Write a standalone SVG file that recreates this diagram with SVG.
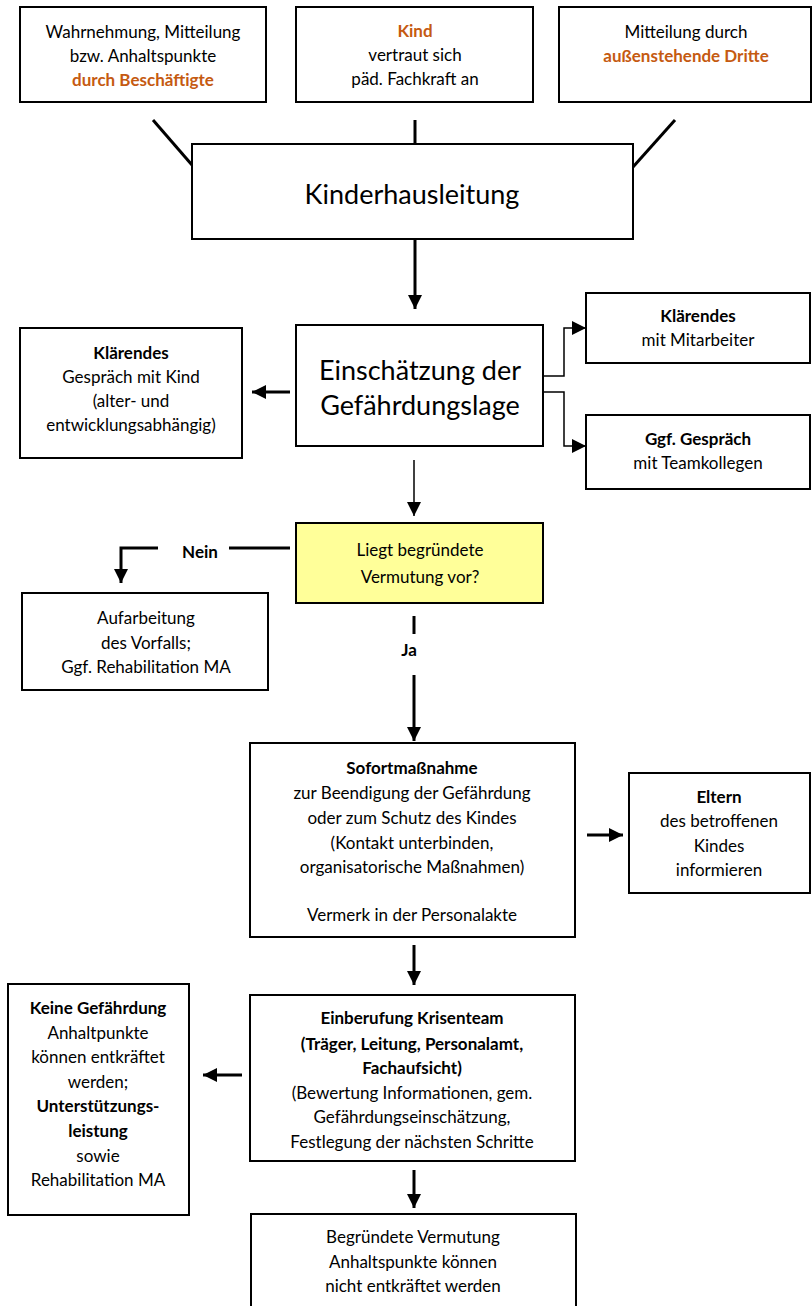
<svg xmlns="http://www.w3.org/2000/svg" width="812" height="1306" viewBox="0 0 812 1306">
<defs>
<marker id="ah" viewBox="0 0 14 14" refX="14" refY="7" markerWidth="14" markerHeight="14" markerUnits="userSpaceOnUse" orient="auto"><path d="M0,0 L14,7 L0,14 z" fill="#000"/></marker>
</defs>
<style>
.box{fill:#fff;stroke:#000;stroke-width:2}
.yel{fill:#FFFF99;stroke:#000;stroke-width:2}
text{font-family:Lato,"Open Sans","Liberation Sans",sans-serif;font-size:17px;fill:#000;text-anchor:middle}
.b{font-weight:bold}
.o{font-weight:bold;fill:#C55A11}
.big{font-size:27px}
.thick{stroke:#000;stroke-width:3;fill:none}
.thin{stroke:#000;stroke-width:1.5;fill:none}
</style>
<rect width="812" height="1306" fill="#fff"/>
<g id="connectors">
<line class="thick" x1="153" y1="120" x2="192" y2="165"/>
<line class="thick" x1="415" y1="120" x2="415" y2="144"/>
<line class="thick" x1="675" y1="120" x2="633" y2="167"/>
<line class="thick" x1="415" y1="239" x2="415" y2="309" marker-end="url(#ah)"/>
<line class="thick" x1="290" y1="392" x2="252" y2="392" marker-end="url(#ah)"/>
<polyline class="thin" points="543,376 564,376 564,328 586,328" marker-end="url(#ah)"/>
<polyline class="thin" points="543,392 564,392 564,446 586,446" marker-end="url(#ah)"/>
<line class="thin" x1="414" y1="460" x2="414" y2="516" marker-end="url(#ah)"/>
<line class="thick" x1="290" y1="548" x2="229" y2="548"/>
<polyline class="thick" points="158,548 121,548 121,583" marker-end="url(#ah)"/>
<line class="thick" x1="414" y1="616" x2="414" y2="634"/>
<line class="thick" x1="414" y1="675" x2="414" y2="741" marker-end="url(#ah)"/>
<line class="thick" x1="587" y1="835" x2="623" y2="835" marker-end="url(#ah)"/>
<line class="thick" x1="414" y1="945" x2="414" y2="985" marker-end="url(#ah)"/>
<line class="thick" x1="242" y1="1075" x2="203" y2="1075" marker-end="url(#ah)"/>
<line class="thick" x1="414" y1="1170" x2="414" y2="1208" marker-end="url(#ah)"/>
<text class="b" x="200" y="558">Nein</text>
<text class="b" x="409" y="656">Ja</text>
</g>
<g id="n1">
<rect class="box" x="20" y="7" width="246" height="95"/>
<text x="143" y="38">Wahrnehmung, Mitteilung</text>
<text x="143" y="62">bzw. Anhaltspunkte</text>
<text class="o" x="143" y="86">durch Beschäftigte</text>
</g>
<g id="n2">
<rect class="box" x="296" y="7" width="237" height="95"/>
<text class="o" x="415" y="37">Kind</text>
<text x="415" y="61">vertraut sich</text>
<text x="415" y="85">päd. Fachkraft an</text>
</g>
<g id="n3">
<rect class="box" x="559" y="7" width="252" height="95"/>
<text x="686" y="38">Mitteilung durch</text>
<text class="o" x="686" y="62">außenstehende Dritte</text>
</g>
<g id="n4">
<rect class="box" x="192" y="144" width="441" height="95"/>
<text class="big" x="412" y="204">Kinderhausleitung</text>
</g>
<g id="n5">
<rect class="box" x="296" y="325" width="247" height="121"/>
<text class="big" x="420" y="380">Einschätzung der</text>
<text class="big" x="420" y="415">Gefährdungslage</text>
</g>
<g id="n6">
<rect class="box" x="20" y="328" width="222" height="130"/>
<text class="b" x="131" y="359">Klärendes</text>
<text x="131" y="383">Gespräch mit Kind</text>
<text x="131" y="407">(alter- und</text>
<text x="131" y="431">entwicklungsabhängig)</text>
</g>
<g id="n7">
<rect class="box" x="586" y="293" width="224" height="70"/>
<text class="b" x="698" y="322">Klärendes</text>
<text x="698" y="346">mit Mitarbeiter</text>
</g>
<g id="n8">
<rect class="box" x="586" y="415" width="224" height="74"/>
<text class="b" x="698" y="445">Ggf. Gespräch</text>
<text x="698" y="469">mit Teamkollegen</text>
</g>
<g id="n9">
<rect class="yel" x="296" y="523" width="247" height="80"/>
<text x="420" y="556">Liegt begründete</text>
<text x="420" y="583">Vermutung vor?</text>
</g>
<g id="n10">
<rect class="box" x="22" y="593" width="246" height="97"/>
<text x="146" y="624">Aufarbeitung</text>
<text x="146" y="649">des Vorfalls;</text>
<text x="146" y="673">Ggf. Rehabilitation MA</text>
</g>
<g id="n11">
<rect class="box" x="250" y="743" width="325" height="194"/>
<text class="b" x="412" y="774">Sofortmaßnahme</text>
<text x="412" y="799">zur Beendigung der Gefährdung</text>
<text x="412" y="824">oder zum Schutz des Kindes</text>
<text x="412" y="849">(Kontakt unterbinden,</text>
<text x="412" y="873">organisatorische Maßnahmen)</text>
<text x="412" y="921">Vermerk in der Personalakte</text>
</g>
<g id="n12">
<rect class="box" x="629" y="773" width="181" height="120"/>
<text class="b" x="719" y="803">Eltern</text>
<text x="719" y="827">des betroffenen</text>
<text x="719" y="852">Kindes</text>
<text x="719" y="876">informieren</text>
</g>
<g id="n13">
<rect class="box" x="250" y="995" width="325" height="166"/>
<text class="b" x="412" y="1024">Einberufung Krisenteam</text>
<text class="b" x="412" y="1050">(Träger, Leitung, Personalamt,</text>
<text class="b" x="412" y="1074">Fachaufsicht)</text>
<text x="412" y="1099">(Bewertung Informationen, gem.</text>
<text x="412" y="1123">Gefährdungseinschätzung,</text>
<text x="412" y="1148">Festlegung der nächsten Schritte</text>
</g>
<g id="n14">
<rect class="box" x="8" y="984" width="181" height="231"/>
<text class="b" x="98" y="1014">Keine Gefährdung</text>
<text x="98" y="1039">Anhaltpunkte</text>
<text x="98" y="1063">können entkräftet</text>
<text x="98" y="1088">werden;</text>
<text class="b" x="98" y="1112">Unterstützungs-</text>
<text class="b" x="98" y="1137">leistung</text>
<text x="98" y="1162">sowie</text>
<text x="98" y="1186">Rehabilitation MA</text>
</g>
<g id="n15">
<rect class="box" x="251" y="1214" width="325" height="100"/>
<text x="413" y="1243">Begründete Vermutung</text>
<text x="413" y="1268">Anhaltspunkte können</text>
<text x="413" y="1292">nicht entkräftet werden</text>
</g>
</svg>
